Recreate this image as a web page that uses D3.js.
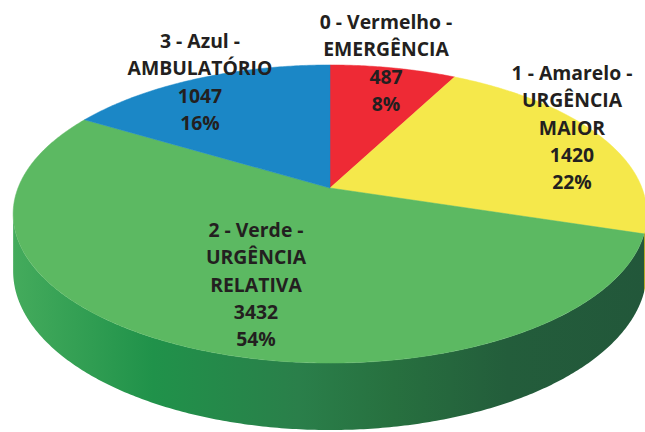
<!DOCTYPE html>
<html lang="pt">
<head>
    <meta charset="UTF-8">
    <script src="https://d3js.org/d3.v7.min.js"></script>
    <title>Classificação de risco</title>
    <style>
        body { margin: 0; background: #fff; }
        text.label {
            fill: #231f20;
            text-anchor: middle;
            font-size: 19px;
            font-weight: bold;
            font-family: 'Open Sans', sans-serif;
        }
    </style>
</head>
<body>
<svg height="432" width="645"></svg>
<script>
    // data
    const categories = ["0 - Vermelho -|EMERGÊNCIA", "1 - Amarelo -|URGÊNCIA|MAIOR",
                        "2 - Verde -|URGÊNCIA|RELATIVA", "3 - Azul -|AMBULATÓRIO"];
    const values = [487, 1420, 3432, 1047];

    // layout / style
    const topColors  = ["#ee2a35", "#f5e84b", "#5cb962", "#1b87c6"];
    const sideColors = ["#a81c24", "#b9ab22", "url(#sideGrad)", "#12608d"];
    const labelPos = [[386, 29], [572, 80], [256, 237], [200, 48]];  // center x, first baseline
    const lineH = 27.3, textScale = 1.02;

    const svg = d3.select("svg");
    const cx = 330, cy = 188, A = 312, B = 144.5, k = 0.1745, depth = 55.3;

    // perspective projection of a point on the pie disc (theta from 12 o'clock, clockwise)
    function project(theta, r, z) {
        const u = r * Math.sin(theta), v = r * Math.cos(theta);
        const s = 1 / (1 + k * v);
        return [cx + A * u * s, cy - B * v * s + z * s];
    }
    function arcPts(a0, a1, z) {
        const n = Math.max(2, Math.ceil((a1 - a0) / 0.01));
        return d3.range(n + 1).map(i => project(a0 + (a1 - a0) * i / n, 1, z));
    }

    const grad = svg.append("defs").append("linearGradient")
            .attr("id", "sideGrad").attr("gradientUnits", "userSpaceOnUse")
            .attr("x1", 13).attr("x2", 647).attr("y1", 0).attr("y2", 0);
    [[0, "#44ab5c"], [0.22, "#20924a"], [0.45, "#2a7f4a"], [0.6, "#27703f"], [0.78, "#235d3b"], [1, "#22573a"]]
        .forEach(s => grad.append("stop").attr("offset", s[0]).attr("stop-color", s[1]));

    const pie = d3.pie().sort(null).value(d => d);
    const arcs = pie(values);
    const total = d3.sum(values);
    const line = d3.line();

    // visible front rim lies between the two silhouette angles
    const sil0 = Math.acos(-k), sil1 = 2 * Math.PI - Math.acos(-k);

    svg.append("g").selectAll("path").data(arcs).enter()
        .filter(d => d.endAngle > sil0 && d.startAngle < sil1)
        .append("path")
        .attr("d", d => {
            const a0 = Math.max(d.startAngle, sil0), a1 = Math.min(d.endAngle, sil1);
            const pts = arcPts(a0, a1, 0).concat(arcPts(a0, a1, depth).reverse());
            return line(pts) + "Z";
        })
        .attr("fill", d => sideColors[d.index]);

    svg.append("g").selectAll("path").data(arcs).enter().append("path")
        .attr("d", d => line([[cx, cy]].concat(arcPts(d.startAngle, d.endAngle, 0))) + "Z")
        .attr("fill", d => topColors[d.index])
        .attr("stroke", d => topColors[d.index]).attr("stroke-width", 0.5);

    const pct = d3.format(".0%");
    arcs.forEach(d => {
        const lines = categories[d.index].split("|").concat([values[d.index], pct(d.data / total)]);
        const t = svg.append("text").attr("class", "label")
                .attr("transform", `translate(${labelPos[d.index][0]},0) scale(${textScale},1)`);
        lines.forEach((s, j) => t.append("tspan")
            .attr("x", 0)
            .attr("y", labelPos[d.index][1] + j * lineH)
            .text(s));
    });
</script>
</body>
</html>
